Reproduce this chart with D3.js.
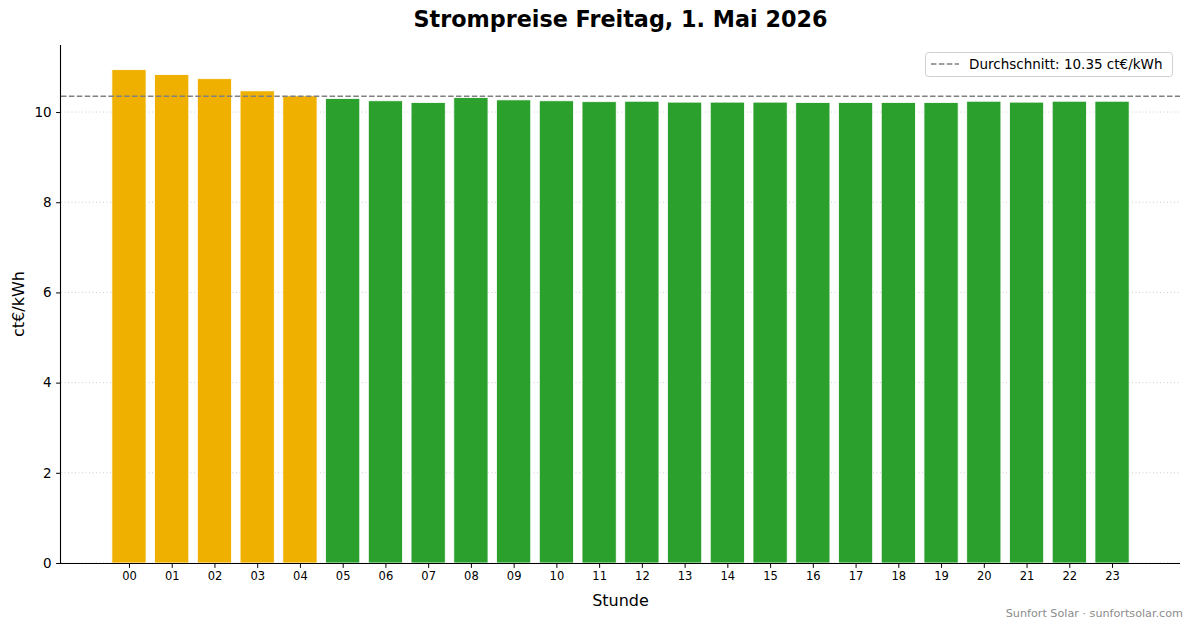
<!DOCTYPE html>
<html><head><meta charset="utf-8">
<script src="https://cdn.jsdelivr.net/npm/d3@7"></script>
<style>body{margin:0;background:#fff;}svg{display:block;font-family:"DejaVu Sans",sans-serif;}</style>
</head><body>
<svg id="c" width="1193" height="628"></svg>
<script>
const hours = ["00","01","02","03","04","05","06","07","08","09","10","11","12","13","14","15","16","17","18","19","20","21","22","23"];
const prices = [10.94,10.83,10.74,10.47,10.36,10.30,10.25,10.21,10.32,10.27,10.25,10.23,10.24,10.22,10.22,10.22,10.21,10.21,10.21,10.21,10.24,10.22,10.24,10.24];
const levels = ["hoch","hoch","hoch","hoch","hoch","normal","normal","normal","normal","normal","normal","normal","normal","normal","normal","normal","normal","normal","normal","normal","normal","normal","normal","normal"];
const average = 10.35;
const yTicks = [0,2,4,6,8,10];
const levelColors = {hoch:"#f0b000", normal:"#2ca02c"};

const svg = d3.select("#c");
const L=61, R=1180, T=45, B=563;
const n = hours.length;
const x = d3.scaleLinear().domain([-0.4-1.19, n-1+0.4+1.19]).range([L,R]);
const y = d3.scaleLinear().domain([0, d3.max(prices)*1.05]).range([B,T]);
const bw = x(0.8)-x(0);

// grid
svg.append("g").selectAll("line").data(yTicks).join("line")
  .attr("x1",L).attr("x2",R).attr("y1",d=>y(d)).attr("y2",d=>y(d))
  .attr("stroke","#c8c8c8").attr("stroke-width",0.9).attr("stroke-dasharray","1,2.5");

// bars
svg.append("g").selectAll("rect").data(prices).join("rect")
  .attr("x",(d,i)=>x(i)-bw/2).attr("width",bw)
  .attr("y",d=>y(d)).attr("height",d=>B-y(d))
  .attr("fill",(d,i)=>levelColors[levels[i]])
  .attr("stroke","#ffffff").attr("stroke-width",0.8);

// average line
svg.append("line").attr("x1",L).attr("x2",R).attr("y1",y(average)).attr("y2",y(average))
  .attr("stroke","#808080").attr("stroke-width",1.5).attr("stroke-dasharray","5.5,2.4");

// axes
const xAxis = d3.axisBottom(x).tickValues(d3.range(n)).tickFormat(i=>hours[i]).tickSize(4.9).tickPadding(4);
const gx = svg.append("g").attr("transform",`translate(0,${B})`).call(xAxis);
gx.select(".domain").remove();
gx.selectAll("text").attr("font-size","11.5px").attr("fill","#000").attr("font-family","DejaVu Sans");
gx.selectAll(".tick line").attr("stroke","#000").attr("stroke-width",1);

const yAxis = d3.axisLeft(y).tickValues(yTicks).tickSize(4.9).tickPadding(4.5);
const gy = svg.append("g").attr("transform",`translate(${L},0)`).call(yAxis);
gy.select(".domain").remove();
gy.selectAll("text").attr("font-size","13.5px").attr("fill","#000").attr("font-family","DejaVu Sans");
gy.selectAll(".tick line").attr("stroke","#000").attr("stroke-width",1);

// spines
svg.append("line").attr("x1",L-0.5).attr("x2",R).attr("y1",B+0.5).attr("y2",B+0.5).attr("stroke","#000").attr("stroke-width",1.1);
svg.append("line").attr("x1",L-0.5).attr("x2",L-0.5).attr("y1",T).attr("y2",B+0.5).attr("stroke","#000").attr("stroke-width",1.1);

// title & labels
svg.append("text").attr("x",(L+R)/2).attr("y",27).attr("text-anchor","middle")
  .attr("font-size","22.3px").attr("font-weight","bold").text("Strompreise Freitag, 1. Mai 2026");
svg.append("text").attr("x",(L+R)/2).attr("y",606).attr("text-anchor","middle")
  .attr("font-size","16px").text("Stunde");
svg.append("text").attr("transform",`translate(24,${(T+B)/2}) rotate(-90)`).attr("text-anchor","middle")
  .attr("font-size","16px").text("ct€/kWh");

// legend
const lg = svg.append("g");
lg.append("rect").attr("x",925.5).attr("y",52.5).attr("width",247).attr("height",24).attr("rx",3)
  .attr("fill","#fff").attr("stroke","#d0d0d0").attr("stroke-width",1);
lg.append("line").attr("x1",931).attr("x2",959).attr("y1",64).attr("y2",64)
  .attr("stroke","#808080").attr("stroke-width",1.5).attr("stroke-dasharray","5.5,2.4");
lg.append("text").attr("x",969).attr("y",69).attr("font-size","13.5px")
  .text(`Durchschnitt: ${average.toFixed(2)} ct€/kWh`);

// footer
svg.append("text").attr("x",1183).attr("y",617).attr("text-anchor","end")
  .attr("font-size","11.2px").attr("fill","#8c8c8c").text("Sunfort Solar · sunfortsolar.com");
</script>
</body></html>
